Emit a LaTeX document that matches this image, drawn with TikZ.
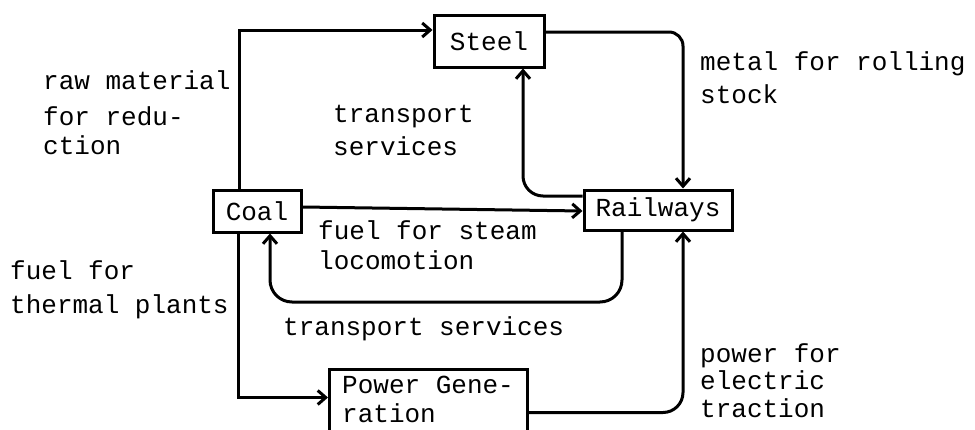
\documentclass[tikz,border=0pt]{standalone}
\usepackage{fontspec}
\setmonofont{Liberation Mono}
\usetikzlibrary{arrows.meta}

\tikzset{
  x=1pt, y=-1pt,
  box/.style={draw, line width=3pt, inner sep=0pt},
  flow/.style={line width=3pt, -{Straight Barb[length=8pt,width=14pt]}},
  lbl/.style={anchor=base west, inner sep=0pt, font=\ttfamily\fontsize{26}{30}\selectfont},
  inbox/.style={inner sep=0pt, font=\ttfamily\fontsize{26}{30}\selectfont},
}

\begin{document}
\begin{tikzpicture}
\useasboundingbox (0,0) rectangle (975,429);

% sectors
\node[box, minimum width=110pt, minimum height=52pt] (steel) at (489,41) {};
\node[inbox] (steeltxt) at (steel) {Steel};
\node[box, minimum width=88pt, minimum height=42pt] (coal) at (257,211) {};
\node[inbox] (coaltxt) at (coal) {Coal};
\node[box, minimum width=148pt, minimum height=40pt] (rail) at (658,210) {};
\node[inbox] (railtxt) at (rail) {Railways};
\node[box, minimum width=198pt, minimum height=66pt, anchor=north west] (power) at (328,368) {};
\node[lbl] (powtxta) at (342,393) {Power Gene-};
\node[lbl] (powtxtb) at (342,422) {ration};

% flows between sectors
\draw[flow] ([xshift=-18pt]coal.north) |- ([yshift=11pt]steel.west);
\draw[flow, rounded corners=14pt] ([yshift=9pt]steel.east) -| ([xshift=25pt]rail.north);
\draw[flow, rounded corners=20pt] ([yshift=14pt]rail.west) -| ([xshift=34pt]steel.south);
\draw[flow] ([yshift=4pt]coal.east) -- ([yshift=-1pt]rail.west);
\coordinate (tsbot) at (450,302);
\draw[flow, rounded corners=22pt] ([xshift=-36pt]rail.south) |- (tsbot) -| ([xshift=13pt]coal.south);
\draw[flow] ([xshift=-19pt]coal.south) |- ([yshift=5pt]power.west);
\draw[flow, rounded corners=20pt] ([yshift=-10pt]power.east) -| ([xshift=25pt]rail.south);

% labels
\node[lbl] (rawa) at (43,89) {raw material};
\node[lbl] (rawb) at (43,125) {for redu-};
\node[lbl] (rawc) at (43,154) {ction};
\node[lbl] (tsa) at (333,122) {transport};
\node[lbl] (tsb) at (333,155) {services};
\node[lbl] (meta) at (700,70) {metal for rolling};
\node[lbl] (metb) at (700,103) {stock};
\node[lbl] (fsa) at (318,239) {fuel for steam};
\node[lbl] (fsb) at (318,269) {locomotion};
\node[lbl] (ftpa) at (10,279) {fuel for};
\node[lbl] (ftpb) at (10,313) {thermal plants};
\node[lbl] (tsc) at (283,335) {transport services};
\node[lbl] (pwa) at (700,362) {power for};
\node[lbl] (pwb) at (700,389) {electric};
\node[lbl] (pwc) at (700,417) {traction};
\end{tikzpicture}
\end{document}
